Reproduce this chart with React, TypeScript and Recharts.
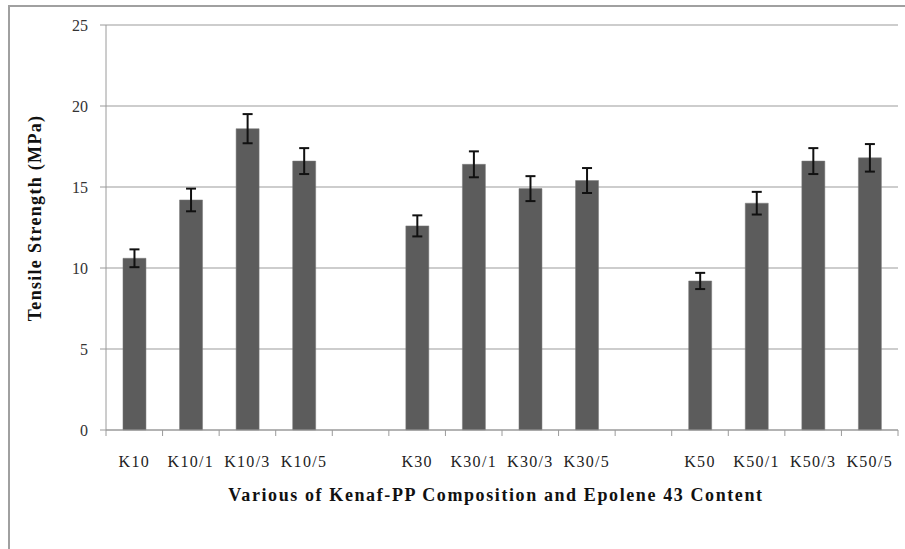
import { BarChart, Bar, XAxis, YAxis, CartesianGrid, ErrorBar } from "recharts";

// gaps between the three kenaf groups are empty categories
const categories = ["K10", "K10/1", "K10/3", "K10/5", " ", "K30", "K30/1", "K30/3", "K30/5", "  ", "K50", "K50/1", "K50/3", "K50/5"];
const strength = [10.6, 14.2, 18.6, 16.6, null, 12.6, 16.4, 14.9, 15.4, null, 9.2, 14.0, 16.6, 16.8];
const errors = [0.55, 0.7, 0.9, 0.8, null, 0.65, 0.8, 0.77, 0.77, null, 0.5, 0.7, 0.8, 0.85];
const yTicks = [0, 5, 10, 15, 20, 25];

const data = categories.map((name, i) => ({ name, value: strength[i], err: errors[i] }));

const W = 905;
const H = 549;
const PLOT_LEFT = 106;
const PLOT_RIGHT = 898;
const BAND = (PLOT_RIGHT - PLOT_LEFT) / categories.length;
const FONT = '"Liberation Serif", "Times New Roman", serif';

function CatTick(props: any) {
  const { x, y, payload, index } = props;
  const left = x - BAND / 2;
  return (
    <g>
      <line x1={left} y1={y} x2={left} y2={y + 6} stroke="#9a9a9a" />
      {index === categories.length - 1 && (
        <line x1={x + BAND / 2} y1={y} x2={x + BAND / 2} y2={y + 6} stroke="#9a9a9a" />
      )}
      <text x={x} y={y + 37} textAnchor="middle" fontFamily={FONT} fontSize={16} letterSpacing={1.3} fill="#222">
        {String(payload.value).trim()}
      </text>
    </g>
  );
}

export default function App() {
  return (
    <div style={{ position: "absolute", left: 0, top: 0, width: W, height: H, overflow: "hidden", background: "#fff" }}>
      <div
        style={{
          position: "absolute",
          left: 8,
          top: 5,
          width: 1000,
          height: 1000,
          borderLeft: "2px solid #a0a0a0",
          borderTop: "2px solid #a0a0a0",
        }}
      />
      <div style={{ position: "absolute", left: 0, top: 0 }}>
        <BarChart
          width={W}
          height={H}
          data={data}
          margin={{ top: 25, right: W - PLOT_RIGHT, bottom: 59, left: 46 }}
          barCategoryGap="30%"
        >
          <CartesianGrid vertical={false} stroke="#bdbdbd" strokeWidth={1.5} />
          <XAxis
            dataKey="name"
            interval={0}
            tickLine={false}
            tickSize={0}
            tickMargin={0}
            tick={<CatTick />}
            axisLine={{ stroke: "#9a9a9a" }}
            height={60}
          />
          <YAxis
            width={60}
            domain={[0, 25]}
            ticks={yTicks}
            interval={0}
            tickSize={6}
            tickMargin={12}
            axisLine={{ stroke: "#9a9a9a" }}
            tickLine={{ stroke: "#9a9a9a" }}
            tick={{ fontFamily: FONT, fontSize: 16, fill: "#333" }}
          />
          <Bar dataKey="value" fill="#5c5c5c" stroke="#7a7a7a" strokeWidth={0.5} isAnimationActive={false}>
            <ErrorBar dataKey="err" width={5} stroke="#111" strokeWidth={2} direction="y" />
          </Bar>
          <text
            x={35}
            y={218}
            transform="rotate(-90 35 218)"
            textAnchor="middle"
            dominantBaseline="central"
            fontFamily={FONT}
            fontSize={18}
            fontWeight="bold"
            letterSpacing={1.3}
            fill="#111"
          >
            Tensile Strength (MPa)
          </text>
          <text x={496} y={501} textAnchor="middle" fontFamily={FONT} fontSize={18} fontWeight="bold" letterSpacing={1.6} fill="#111">
            Various of Kenaf-PP Composition and Epolene 43 Content
          </text>
        </BarChart>
      </div>
    </div>
  );
}
